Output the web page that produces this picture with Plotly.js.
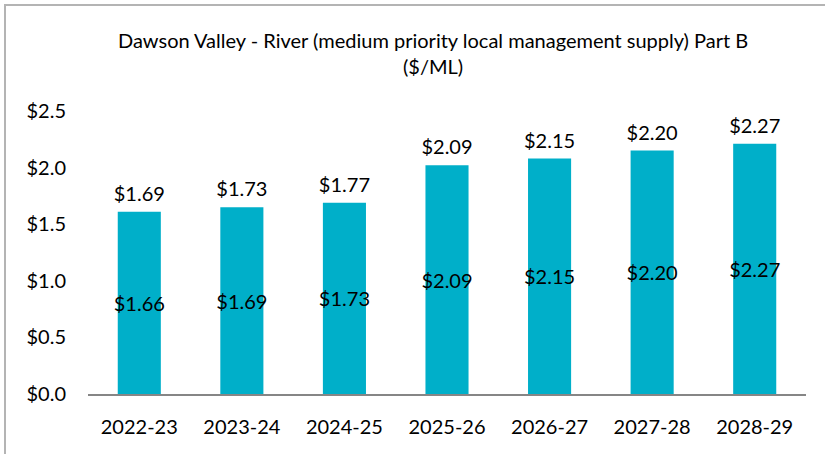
<!DOCTYPE html>
<html>
<head>
<meta charset="utf-8">
<script src="https://cdn.plot.ly/plotly-3.0.1.min.js"></script>
<style>
  html, body { margin: 0; padding: 0; background: #fff; }
  #wrap { position: relative; width: 825px; height: 454px; overflow: hidden; }
  #chart { position: absolute; left: 0; top: 0; width: 825px; height: 454px; }
  #frame { position: absolute; left: 4px; top: 4px; width: 900px; height: 500px;
           border-left: 2px solid #b4b4b4; border-top: 2px solid #b4b4b4; pointer-events: none; }
</style>
</head>
<body>
<div id="wrap">
  <div id="chart"></div>
  <div id="frame"></div>
</div>
<script>
const categories = ["2022-23", "2023-24", "2024-25", "2025-26", "2026-27", "2027-28", "2028-29"];
const barValues = [1.61, 1.65, 1.69, 2.02, 2.08, 2.15, 2.21];
const innerLabels = ["$1.66", "$1.69", "$1.73", "$2.09", "$2.15", "$2.20", "$2.27"];
const topLabels = ["$1.69", "$1.73", "$1.77", "$2.09", "$2.15", "$2.20", "$2.27"];
const yTickVals = [0, 0.5, 1.0, 1.5, 2.0, 2.5];
const yTickText = ["$0.0", "$0.5", "$1.0", "$1.5", "$2.0", "$2.5"];

const FONT = "Lato, 'Open Sans', sans-serif";

const traces = [
  {
    type: "bar",
    x: categories,
    y: barValues,
    marker: { color: "#00AFC9" },
    text: innerLabels,
    textposition: "inside",
    insidetextanchor: "middle",
    textangle: 0,
    constraintext: "none",
    textfont: { family: FONT, size: 20, color: "#000000" },
    hoverinfo: "none",
    showlegend: false
  },
  {
    type: "scatter",
    mode: "markers+text",
    x: categories,
    y: barValues,
    text: topLabels,
    textposition: "top center",
    marker: { size: 8, opacity: 0, color: "rgba(0,0,0,0)" },
    textfont: { family: FONT, size: 20, color: "#000000" },
    hoverinfo: "none",
    showlegend: false,
    cliponaxis: false
  }
];

const layout = {
  width: 825,
  height: 454,
  margin: { l: 88, r: 19, t: 111, b: 60 },
  paper_bgcolor: "#ffffff",
  plot_bgcolor: "#ffffff",
  font: { family: FONT, color: "#000000" },
  title: {
    text: "Dawson Valley - River (medium priority local management supply) Part B<br>($/ML)",
    font: { family: FONT, size: 20, color: "#000000" },
    x: 0.525,
    xanchor: "center",
    y: 0.895,
    yanchor: "top"
  },
  bargap: 0.58,
  xaxis: {
    type: "category",
    range: [-0.5, 6.5],
    showgrid: false,
    zeroline: false,
    showline: true,
    linecolor: "#868686",
    linewidth: 2,
    ticks: "",
    ticklabelstandoff: 14,
    tickfont: { family: FONT, size: 20, color: "#000000" }
  },
  yaxis: {
    range: [0, 2.5],
    showgrid: false,
    zeroline: false,
    showline: false,
    tickvals: yTickVals,
    ticktext: yTickText,
    ticks: "",
    ticklabelstandoff: 21,
    tickfont: { family: FONT, size: 20, color: "#000000" }
  }
};

Plotly.newPlot("chart", traces, layout, { displayModeBar: false, staticPlot: true });
</script>
</body>
</html>
